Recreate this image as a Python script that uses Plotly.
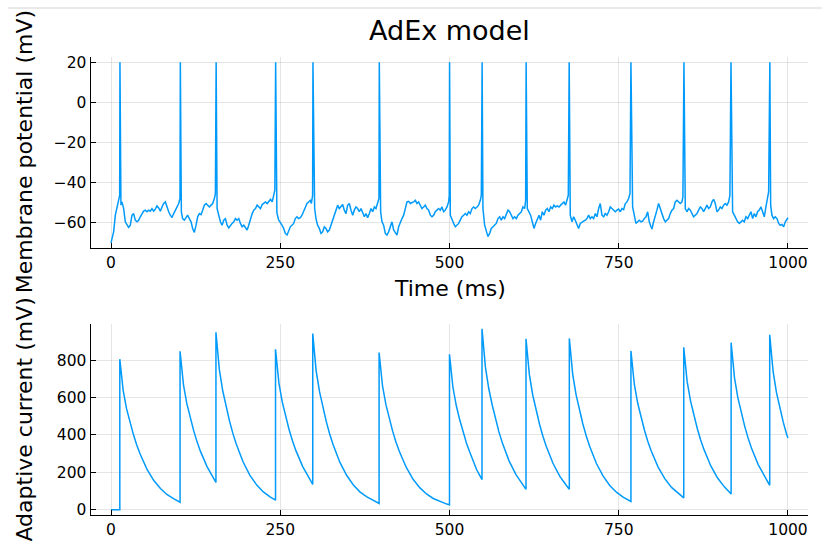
import plotly.graph_objects as go

# ---------------- data ----------------
v_time_ms = [
    0, 3.9, 6.4, 8.8, 11.3, 12.8, 13.2, 14.7, 16.2, 18.7, 21.1, 23.6, 26, 28.5, 31, 33.4, 35.9, 38.4, 40.8,
    43.3, 45.7, 48.2, 50.7, 53.1, 55.6, 58, 60.5, 63, 65.4, 67.9, 70.4, 72.9, 75.3, 77.8, 80.3, 82.7, 85.2,
    87.6, 90.1, 92.6, 95, 97.5, 100, 101.9, 102.4,
    103.9, 105.8, 108.3, 110.8, 113.2, 115.7, 118.2, 120.6, 123.1, 125.6, 128, 130.5, 133, 135.4, 137.9,
    140.4, 142.8, 145.3, 147.8, 150.2, 152.7, 154.2, 155.3,
    156.7, 159.1, 161.6, 164.1, 166.5, 169, 171.5, 173.9, 176.4, 178.9, 181.3, 183.8, 186.3, 188.7, 191.2,
    193.7, 196.1, 198.6, 201.1, 203.4, 206, 208.5, 210.9, 213.4, 215.9, 218.3, 220.8, 223.3, 225.7, 228.2,
    230.7, 233.1, 235.6, 238.1, 240.5, 242, 243.2,
    245, 247.5, 250.1, 252.5, 255, 257.5, 260, 262.4, 264.9, 267.3, 269.8, 272.2, 274.7, 277.2, 279.6,
    282.1, 284.5, 287, 289.5, 291.9, 294.4, 295.9, 297.8, 298.3,
    300.8, 302.8, 305.2, 307.7, 310.2, 312.6, 315.1, 317.5, 320, 322.5, 324.9, 327.4, 329.9, 332.3, 334.8,
    337.2, 339.7, 342.2, 344.6, 347.1, 349.6, 352, 354.5, 357, 359.4, 361.9, 364.3, 366.8, 369.3, 371.7,
    374.2, 376.6, 379.1, 381.6, 384, 386.5, 389, 391.4, 393.9, 395.8, 396.3,
    398.3, 400.3, 402.7, 405.2, 407.6, 410.1, 412.6, 415, 417.5, 420, 422.4, 424.9, 427.3, 429.8, 432.3,
    434.7, 437.2, 439.7, 442.1, 444.6, 447, 449.5, 452, 454.4, 456.9, 459.3, 461.8, 464.3, 466.7, 469.2,
    471.7, 474.1, 476.6, 479, 481.5, 484, 486.4, 488.9, 491.3, 493.8, 496.3, 498.7, 499.6, 500.1,
    501.2, 503.6, 506.1, 508.6, 511, 513.5, 515.9, 518.4, 520.9, 523.3, 525.8, 528.3, 530.7, 533.2, 535.6,
    538.1, 540.6, 543, 545.5, 547, 548.2,
    549.4, 551.9, 554.4, 556.8, 559.3, 561.7, 564.2, 566.7, 569.1, 571.6, 574.1, 576.5, 579, 581.4, 583.9,
    586.4, 588.8, 591.3, 593.8, 596.2, 598.7, 601.1, 603.6, 606.1, 608.5, 611, 612.5, 613.2,
    614.9, 617.4, 619.8, 622.3, 624.8, 627.2, 629.7, 632.2, 634.6, 637.1, 639.5, 642, 644.5, 646.9, 649.4,
    651.8, 654.3, 656.8, 659.2, 661.7, 664.2, 666.6, 669.1, 671.5, 674, 675.5, 676.8,
    678.4, 680.9, 683.4, 685.8, 688.3, 690.7, 693.2, 695.7, 698.1, 700.6, 703.1, 705.5, 708, 710.4, 712.9,
    715.4, 717.8, 720.3, 722.7, 725.2, 727.7, 730.1, 732.6, 735.1, 737.5, 740, 742.5, 744.9, 747.4, 749.8,
    752.3, 754.7, 757.2, 759.7, 762.1, 764.6, 766.6, 768,
    770.5, 773, 775.4, 777.9, 780.4, 782.8, 785.3, 787.7, 790.2, 792.7, 795.1, 797.6, 799.1, 801.5, 804,
    806.4, 808.9, 811.4, 813.8, 816.3, 818.8, 821.2, 823.7, 826.1, 828.6, 831.1, 833.5, 836, 838.4, 840.9,
    843.4, 844.8, 846.3,
    848.3, 850.8, 853.2, 855.7, 858.1, 860.6, 863.1, 865.5, 868, 870.5, 872.9, 875.4, 877.8, 880.3, 882.8,
    885.2, 887.7, 890.1, 892.6, 895.1, 897.5, 900, 902.5, 904.9, 907.4, 909.8, 912.3, 914.2, 915.8,
    918.2, 920.7, 923.1, 925.6, 928.1, 930.5, 933, 935.4, 937.9, 940.4, 942.8, 945.3, 947.8, 950.2, 952.7,
    955.1, 957.6, 960.1, 962.5, 965, 967.4, 969.9, 971.4, 973.2,
    974.4, 976.3, 978.8, 981.3, 983.7, 986.2, 988.6, 991.1, 993.6, 996, 998.5, 1000,
]
v_membrane_mV = [
    -70, -64.5, -56.2, -52, -49.6, -46.3, 20, -51.2, -49.6, -52.9, -59.5, -61.2, -62.3, -61.2, -56.2, -55.4,
    -58.7, -59.5, -58.7, -57, -55.4, -54.2, -53.7, -54.5, -53.7, -54.2, -52.9, -54.2, -53.2, -51.6, -52.6,
    -54.2, -52.1, -50.4, -49.6, -52.6, -54.5, -56.2, -57.4, -55.4, -53.7, -52.1, -50.4, -47.9, 20,
    -54.5, -57.9, -58.7, -57, -56.2, -57.9, -59.5, -62.8, -64.8, -61.2, -57, -55.4, -55.9, -53.7, -51.2,
    -50.4, -51.2, -52.1, -51.2, -50.4, -47.9, -45.5, 20,
    -52.9, -56.2, -59.5, -61.2, -58.7, -57.9, -61.2, -62.5, -61.2, -60.3, -59.5, -57.9, -58.7, -57.9, -60.3,
    -62, -61.2, -62.5, -63.6, -61.2, -57.9, -55.4, -53.7, -52.9, -51.2, -52.1, -52.9, -50.9, -50.4, -49.6,
    -50.4, -49.3, -48.3, -49.6, -46.3, -43.8, 20,
    -55, -58.5, -60.3, -61.2, -62.8, -65.3, -66.1, -63.6, -62, -61.2, -60.3, -57.9, -57, -57.9, -57.5,
    -56.2, -54.5, -52.1, -50.4, -49.6, -48.8, -50.4, -46.3, 20,
    -52.9, -57.9, -61.2, -62.8, -65.3, -64.5, -62, -62.8, -64.5, -63.6, -61.2, -57.9, -55.4, -52.9, -51.2,
    -52.9, -52.1, -50.9, -53.7, -55.4, -51.2, -50.4, -53.7, -56.2, -53.7, -52.1, -52.9, -54.5, -52.9, -54.5,
    -57, -55.4, -57.5, -55.4, -52.9, -54.5, -52.1, -52.9, -50.4, -47.9, 20,
    -54.5, -59.5, -61.2, -65.3, -66.1, -64.5, -62, -59.5, -63.6, -65.3, -66.1, -62, -59.5, -57.9, -56.2,
    -52.9, -49.6, -49.3, -50.4, -49.9, -49.6, -48.8, -50.4, -49.6, -51.2, -52.9, -52.1, -51.2, -52.9, -53.7,
    -56.2, -57, -56.2, -54.5, -53.7, -52.9, -53.7, -52.1, -54.5, -53.7, -52.1, -49.6, -46.5, 20,
    -56.2, -58.7, -60.3, -62, -61.2, -60.3, -58.7, -57, -56.2, -55.4, -56.2, -54.5, -55.4, -52.9, -52.1,
    -52.9, -52.1, -51.2, -48.8, -46.3, 20,
    -52.9, -61.2, -64.5, -66.9, -65.3, -62.8, -62, -61.2, -60.3, -57.9, -57, -58.7, -57, -57.9, -55.4,
    -53.7, -54.5, -56.2, -57.9, -57, -57.9, -56.2, -55.4, -54.5, -52.1, -52.9, -48.8, 20,
    -52.9, -54.5, -56.2, -59.5, -62.8, -60.3, -57.9, -56.2, -58.7, -54.5, -56.2, -53.7, -52.9, -54.5, -52.1,
    -52.9, -51.2, -52.1, -51.6, -52.1, -51.2, -50.4, -49.6, -51.2, -48.8, -46.3, 20,
    -56.2, -59.5, -57, -58.7, -61.2, -62.8, -60.3, -59.5, -59.2, -58.7, -57.9, -56.2, -57.9, -57, -57.9,
    -55.4, -57, -52.9, -50.4, -56.2, -57, -55.4, -56.2, -54.5, -52.1, -52.9, -53.7, -54.5, -53.7, -53.2,
    -54.5, -52.9, -53.4, -50.4, -49.6, -47.9, -45.5, 20,
    -52.1, -57, -60.3, -59.5, -58.7, -59.5, -59.2, -57.9, -57, -54.5, -59.5, -62, -63.1, -59.5, -57,
    -53.7, -50.4, -52.9, -56.2, -57.9, -59.5, -58.7, -57.9, -55.4, -53.7, -52.9, -49.6, -48.8, -49.6, -50.4,
    -49.6, -47.1, 20,
    -52.9, -54.5, -52.9, -53.7, -55.4, -57, -56.2, -55.4, -53.7, -52.1, -52.9, -54.5, -52.9, -51.2, -52.9,
    -52.1, -49.6, -48.3, -50.4, -54.5, -53.7, -52.1, -52.9, -51.2, -50.4, -51.2, -49.6, -46.3, 20,
    -54.5, -56.2, -57.9, -59.5, -60.3, -59.5, -58.7, -59.5, -57, -57.9, -56.2, -54.5, -57.9, -55.4, -57,
    -54.5, -53.7, -52.1, -54.5, -57, -52.1, -47.9, -44.6, 20,
    -51.2, -56.2, -57.9, -57, -57.9, -60.3, -61.2, -60.8, -62, -59.5, -57.9, -57.5,
]

w_time_ms = [
    0, 13, 13, 18, 23, 28, 33, 38, 43, 53, 63, 73, 83, 93, 102,
    102, 107, 112, 117, 122, 127, 132, 142, 152, 155,
    155, 160, 165, 170, 175, 180, 185, 195, 205, 215, 225, 235, 243,
    243, 248, 253, 258, 263, 268, 273, 283, 293, 298,
    298, 303, 308, 313, 318, 323, 328, 338, 348, 358, 368, 378, 388, 396,
    396, 401, 406, 411, 416, 421, 426, 436, 446, 456, 466, 476, 486, 496, 500,
    500, 505, 510, 515, 520, 525, 530, 540, 548,
    548, 553, 558, 563, 568, 573, 578, 588, 598, 608, 613,
    613, 618, 623, 628, 633, 638, 643, 653, 663, 673, 677,
    677, 682, 687, 692, 697, 702, 707, 717, 727, 737, 747, 757, 767, 768,
    768, 773, 778, 783, 788, 793, 798, 808, 818, 828, 838, 846,
    846, 851, 856, 861, 866, 871, 876, 886, 896, 906, 916,
    916, 921, 926, 931, 936, 941, 946, 956, 966, 973,
    973, 978, 983, 988, 993, 998, 1000,
]
w_adaptive = [
    0, 0, 805, 636, 539, 467, 403, 346, 298, 217, 157, 113, 80, 58, 40,
    847, 669, 567, 491, 424, 364, 313, 229, 165, 146,
    949, 750, 636, 550, 475, 408, 351, 256, 185, 133, 95, 68, 51,
    858, 678, 575, 498, 429, 369, 317, 232, 167, 135,
    942, 744, 631, 546, 471, 405, 349, 254, 184, 132, 94, 68, 48, 33,
    840, 664, 563, 487, 420, 361, 311, 227, 164, 118, 84, 60, 43, 30, 26,
    831, 656, 557, 482, 416, 357, 307, 215, 161,
    967, 764, 648, 561, 484, 416, 358, 261, 189, 135, 109,
    914, 722, 612, 530, 457, 393, 338, 247, 178, 128, 109,
    916, 724, 614, 531, 458, 394, 339, 247, 179, 128, 92, 66, 46, 44,
    849, 671, 569, 492, 425, 365, 314, 229, 166, 119, 85, 63,
    868, 686, 582, 503, 434, 373, 321, 234, 169, 122, 84,
    893, 705, 598, 518, 447, 384, 330, 241, 174, 130,
    935, 739, 626, 542, 468, 402, 383,
]

x_ticks = [0, 250, 500, 750, 1000]
v_ticks = [-60, -40, -20, 0, 20]
w_ticks = [0, 200, 400, 600, 800]

TITLE = "AdEx model"
X_LABEL = "Time (ms)"
V_LABEL = "Membrane potential (mV)"
W_LABEL = "Adaptive current (mV)"

# ---------------- figure ----------------
W, H = 822, 542
LINE = "#009AFA"
FONT = "DejaVu Sans"


def px(x):
    return x / W


def py(y):
    return 1 - y / H


fig = go.Figure()
fig.add_trace(go.Scatter(x=v_time_ms, y=v_membrane_mV, mode="lines",
                         line=dict(color=LINE, width=1.5), xaxis="x", yaxis="y",
                         showlegend=False, hoverinfo="skip"))
fig.add_trace(go.Scatter(x=w_time_ms, y=w_adaptive, mode="lines",
                         line=dict(color=LINE, width=1.5), xaxis="x2", yaxis="y2",
                         showlegend=False, hoverinfo="skip"))

axis_common = dict(
    showline=True, linecolor="black", linewidth=1.2, mirror=False,
    ticks="inside", ticklen=5, tickwidth=1, tickcolor="black",
    showgrid=True, gridcolor="rgba(0,0,0,0.1)", gridwidth=1,
    zeroline=False, tickfont=dict(family=FONT, size=15.5, color="black"),
)

xdom = [px(90.7), px(808.3)]
fig.update_layout(
    width=W, height=H, autosize=False,
    margin=dict(l=0, r=0, t=0, b=0),
    paper_bgcolor="white", plot_bgcolor="white",
    font=dict(family=FONT, color="black"),
    xaxis=dict(domain=xdom, anchor="y", range=[-30, 1030], tickvals=x_ticks,
               ticktext=[str(t) for t in x_ticks], **axis_common),
    yaxis=dict(domain=[py(248.3), py(54.3)], anchor="x", range=[-72.6, 22.8],
               tickvals=v_ticks, **axis_common),
    xaxis2=dict(domain=xdom, anchor="y2", range=[-30, 1030], tickvals=x_ticks,
                ticktext=[str(t) for t in x_ticks], **axis_common),
    yaxis2=dict(domain=[py(519), py(325)], anchor="x2", range=[-30, 994],
                tickvals=w_ticks, **axis_common),
    shapes=[dict(type="line", xref="paper", yref="paper", x0=px(8), x1=1,
                 y0=py(5), y1=py(5), line=dict(color="#e2e2e2", width=1.5))],
    annotations=[
        dict(text=TITLE, x=px(449.5), y=py(28), xref="paper", yref="paper",
             xanchor="center", yanchor="middle", showarrow=False,
             font=dict(family=FONT, size=27, color="black")),
        dict(text=X_LABEL, x=px(449.5), y=py(289), xref="paper", yref="paper",
             xanchor="center", yanchor="middle", showarrow=False,
             font=dict(family=FONT, size=22, color="black")),
        dict(text=V_LABEL, x=px(24), y=py(151.3), xref="paper", yref="paper",
             xanchor="center", yanchor="middle", showarrow=False, textangle=-90,
             font=dict(family=FONT, size=22, color="black")),
        dict(text=W_LABEL, x=px(25), y=py(422), xref="paper", yref="paper",
             xanchor="center", yanchor="middle", showarrow=False, textangle=-90,
             font=dict(family=FONT, size=22, color="black")),
    ],
)

fig.write_html("out.html", config={"displayModeBar": False, "staticPlot": True})

# remove the default 8px page margin so the figure sits at the window's corner
with open("out.html", "r", encoding="utf-8") as f:
    html = f.read()
html = html.replace("<head>", "<head><style>html,body{margin:0;padding:0;overflow:hidden;}</style>", 1)
with open("out.html", "w", encoding="utf-8") as f:
    f.write(html)
